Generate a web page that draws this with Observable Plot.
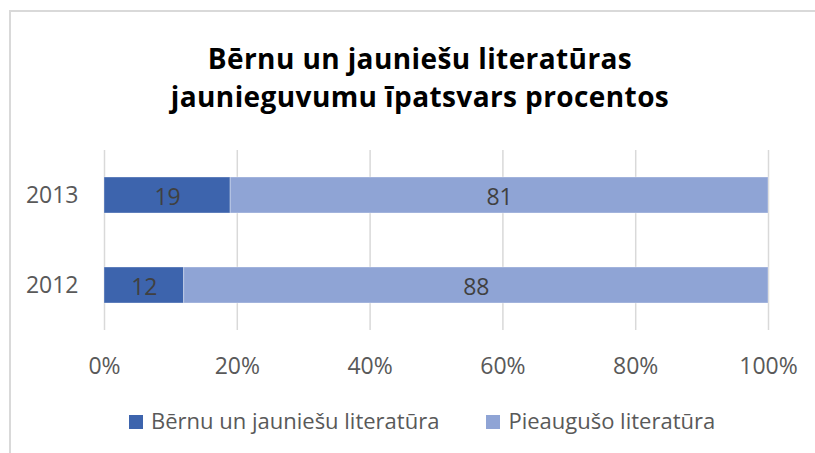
<!DOCTYPE html>
<html>
<head>
<meta charset="utf-8">
<script src="https://cdn.jsdelivr.net/npm/d3@7"></script>
<script src="https://cdn.jsdelivr.net/npm/@observablehq/plot@0.6"></script>
<style>
  html, body { margin: 0; padding: 0; background: #fff; }
  #wrap { position: relative; width: 815px; height: 453px; overflow: hidden; font-family: "Open Sans", sans-serif; }
  #frame { position: absolute; left: 9px; top: 10px; width: 900px; height: 900px; border: 2px solid #d9d9d9; box-sizing: border-box; }
  #title { position: absolute; left: 0; top: 39px; width: 840px; text-align: center; font-weight: bold; font-size: 28px; line-height: 38px; color: #000; letter-spacing: 0.4px; }
  #chart { position: absolute; left: 0; top: 140px; }
  #legend { position: absolute; top: 405px; left: 129px; white-space: nowrap; font-size: 22px; line-height: 30px; color: #595959; }
  .item { display: inline-block; }
  .item + .item { margin-left: 47px; }
  .sw { display: inline-block; width: 14px; height: 14px; margin-right: 8px; vertical-align: baseline; }
</style>
</head>
<body>
<div id="wrap">
  <div id="frame"></div>
  <div id="title">Bērnu un jauniešu literatūras<br>jaunieguvumu īpatsvars procentos</div>
  <div id="chart"></div>
  <div id="legend"></div>
</div>
<script>
const years = ["2013", "2012"];
const seriesNames = ["Bērnu un jauniešu literatūra", "Pieaugušo literatūra"];
const childrenValues = [19, 12];
const adultValues = [81, 88];
const xTicks = [0, 20, 40, 60, 80, 100];
const colors = ["#3d64ad", "#8fa4d5"];

const rows = [];
years.forEach((y, i) => {
  rows.push({year: y, series: seriesNames[0], value: childrenValues[i]});
  rows.push({year: y, series: seriesNames[1], value: adultValues[i]});
});

const plot = Plot.plot({
  width: 815,
  height: 260,
  marginLeft: 104,
  marginRight: 47,
  marginTop: 10,
  marginBottom: 70,
  style: { fontFamily: "'Open Sans', sans-serif", fontSize: "23px", color: "#595959", background: "transparent" },
  x: { domain: [0, 100], ticks: xTicks, tickFormat: d => d + "%", tickSize: 0, tickPadding: 27, label: null },
  y: { domain: years, paddingInner: 0.6, paddingOuter: 0.29, tickSize: 0, tickPadding: 26, label: null },
  color: { domain: seriesNames, range: colors },
  marks: [
    Plot.ruleX(xTicks, { x: d => d, stroke: "#d9d9d9", strokeWidth: 1.5 }),
    Plot.barX(rows, Plot.stackX({ x: "value", y: "year", fill: "series", stroke: "#ffffff", strokeOpacity: 0.35, strokeWidth: 1 })),
    Plot.text(rows, Plot.stackX({ x: "value", y: "year", z: "series", text: d => String(d.value), fill: "#404040", fontSize: 23, dy: 2 }))
  ]
});
plot.querySelectorAll('[aria-label="y-axis tick label"] text, [aria-label="x-axis tick label"] text').forEach(t => t.setAttribute("fill", "#595959"));
document.getElementById("chart").appendChild(plot);

const legend = document.getElementById("legend");
seriesNames.forEach((name, i) => {
  const item = document.createElement("span");
  item.className = "item";
  const sw = document.createElement("span");
  sw.className = "sw";
  sw.style.background = colors[i];
  const label = document.createElement("span");
  label.textContent = name;
  item.appendChild(sw);
  item.appendChild(label);
  legend.appendChild(item);
});
</script>
</body>
</html>
